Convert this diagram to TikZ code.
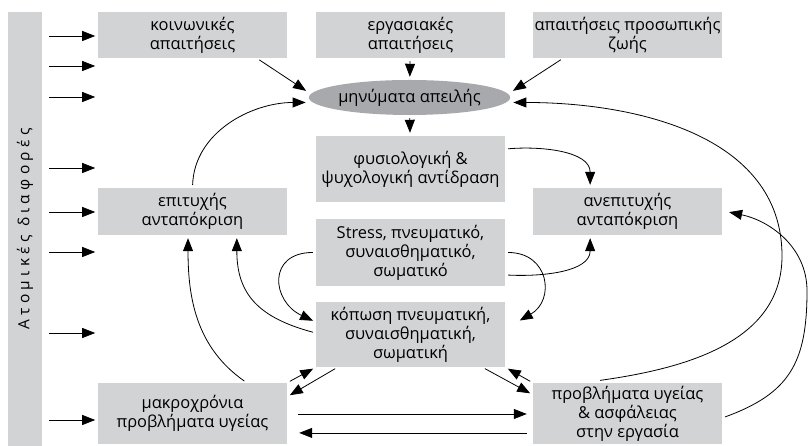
\documentclass[tikz,border=0pt]{standalone}
\usepackage{fontspec}
\setmainfont{Open Sans}
\usetikzlibrary{arrows.meta,shapes.geometric}
\definecolor{boxgray}{RGB}{209,211,212}
\definecolor{ovalgray}{RGB}{167,169,172}

\begin{document}
\begin{tikzpicture}[x=1bp,y=1bp,
  box/.style={fill=boxgray,minimum width=189bp,align=center,inner sep=0pt,font=\fontsize{16.5}{19}\selectfont},
  arr/.style={-{Triangle[length=13bp,width=10bp]},line width=0.8bp,shorten <=3bp,shorten >=3bp}]
\useasboundingbox (0,0) rectangle (809,446);
\node[box,rotate=90,minimum width=434bp,minimum height=34bp,font=\fontsize{15.5}{19}\selectfont] (bar) at (25,217) {\addfontfeature{LetterSpace=28}Ατομικές διαφορές};
\node[box,minimum height=46bp] (social) at (192.5,411) {κοινωνικές\\απαιτήσεις};
\node[box,minimum height=46bp] (work) at (410.5,411) {εργασιακές\\απαιτήσεις};
\node[box,minimum height=46bp] (life) at (627.5,411) {απαιτήσεις προσωπικής\\ζωής};
\node[ellipse,fill=ovalgray,minimum width=183bp,minimum height=35bp,inner sep=0pt,font=\fontsize{16.5}{19}\selectfont] (threat) at (409.5,348.5) {μηνύματα απειλής};
\node[box,minimum height=66bp] (react) at (410.5,277) {φυσιολογική \&\\ψυχολογική αντίδραση};
\node[box,minimum height=47bp] (succ) at (192.5,234.5) {επιτυχής\\ανταπόκριση};
\node[box,minimum height=47bp] (fail) at (627.5,234.5) {ανεπιτυχής\\ανταπόκριση};
\node[box,minimum height=67bp] (stress) at (410.5,193.5) {Stress, πνευματικό,\\συναισθηματικό,\\σωματικό};
\node[box,minimum height=65bp] (fatigue) at (410.5,111.5) {κόπωση πνευματική,\\συναισθηματική,\\σωματική};
\node[box,minimum height=61bp] (chronic) at (192.5,32.5) {μακροχρόνια\\προβλήματα υγείας};
\node[box,minimum height=61bp] (health) at (627.5,32.5) {προβλήματα υγείας\\\& ασφάλειας\\στην εργασία};
\foreach \y in {410,380,349,278,234,194,113,26}
  \draw[arr,shorten <=7bp,shorten >=0pt] (bar.south |- 0,\y) -- +(53,0);
\draw[arr] ([xshift=64.5]social.south) -- ([yshift=5]threat.west);
\draw[arr] (work) -- (threat);
\draw[arr] ([xshift=-64.5]life.south) -- ([yshift=5]threat.east);
\draw[arr] (threat) -- (react);
\draw[arr] (succ.north) to[out=88,in=180] ([yshift=-5]threat.west);
\draw[arr] ([yshift=20]react.east) to[out=5,in=90] ([xshift=-37.5]fail.north);
\draw[arr] (stress.west) to[out=180,in=155,looseness=1.8] ([yshift=12.5]fatigue.west);
\draw[arr] (stress.east) to[out=0,in=30,looseness=1.6] ([xshift=12,yshift=12.5]fatigue.east);
\draw[arr] ([yshift=-22.5]stress.east) to[out=-3,in=-90] ([xshift=-37.5]fail.south);
\draw[arr] ([yshift=1.5]fatigue.west) to[out=165,in=-90,looseness=1.2] ([xshift=44.5]succ.south);
\draw[arr] ([xshift=54.5]chronic.north) to[out=145,in=-90] ([xshift=-4.5]succ.south);
\draw[arr] (chronic.north east) -- (fatigue.south west);
\draw[arr] ([xshift=22]fatigue.south west) -- ([yshift=-14]chronic.north east);
\draw[arr] ([xshift=-23]fatigue.south east) -- ([yshift=-12]health.north west);
\draw[arr] (health.north west) -- (fatigue.south east);
\draw[arr,shorten <=11bp,shorten >=6bp] ([yshift=-0.5]chronic.east) -- ([yshift=-0.5]health.west);
\draw[arr,shorten <=6bp,shorten >=12bp] ([yshift=-19.5]health.west) -- ([yshift=-19.5]chronic.east);
\draw[arr] ([xshift=-30.5,yshift=2]health.north) to[out=8,in=-90] (782,190) to[out=90,in=0] ([yshift=-5]threat.east);
\draw[arr] ([yshift=-4.5]health.east) to[out=20,in=-90,looseness=1.2] (807,155) to[out=90,in=-12] ([xshift=4]fail.east);
\end{tikzpicture}
\end{document}
